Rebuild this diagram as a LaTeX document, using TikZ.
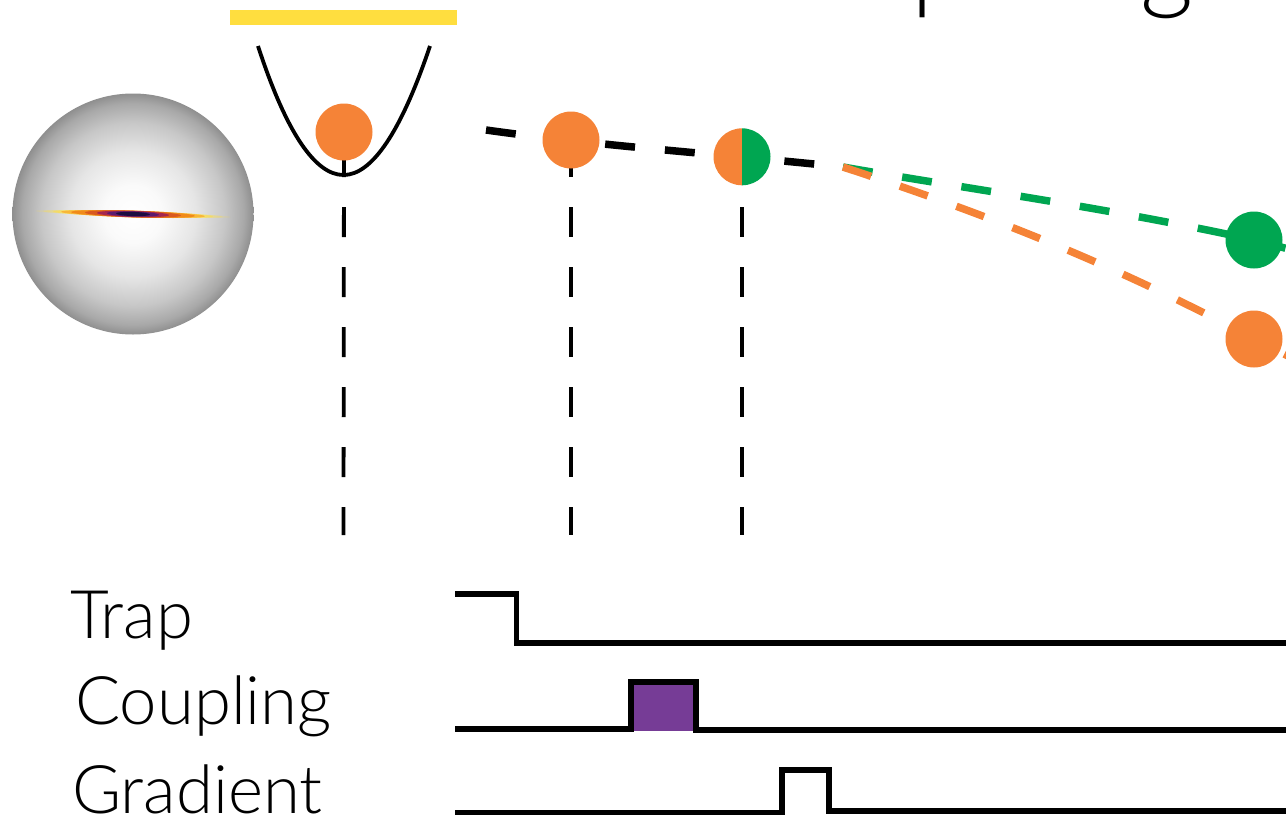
\documentclass[tikz,border=0pt]{standalone}
\usepackage{fontspec}
\newfontfamily\lab{Lato}[UprightFont=* Light]
\definecolor{atomorange}{HTML}{F58337}
\definecolor{atomgreen}{HTML}{00A651}
\definecolor{barfill}{HTML}{FFDE3F}
\definecolor{pulsefill}{HTML}{763C96}
\definecolor{streakA}{HTML}{F9B233}
\definecolor{streakB}{HTML}{F08A1A}
\definecolor{streakC}{HTML}{D9591F}
\definecolor{streakD}{HTML}{A5264F}
\definecolor{streakE}{HTML}{5B1A6E}
\definecolor{streakF}{HTML}{1C0C40}
\pgfdeclareradialshading{cloudball}{\pgfpointorigin}{%
  color(0bp)=(white);
  color(6bp)=(white!98!black);
  color(13bp)=(white!90!black);
  color(19bp)=(white!78!black);
  color(23bp)=(white!66!black);
  color(25bp)=(white!56!black);
  color(50bp)=(white!56!black)}
\tikzset{
  x=1pt, y=-1pt,
  atom/.style={circle, fill=atomorange, minimum size=57pt, inner sep=0pt},
  atomg/.style={atom, fill=atomgreen},
  halfatom/.style={circle, minimum size=57pt, inner sep=0pt},
  path black/.style={line width=7.5pt, black, dash pattern=on 30pt off 30pt},
  path green/.style={line width=7.5pt, atomgreen, dash pattern=on 30pt off 30pt},
  path orange/.style={line width=7.5pt, atomorange, dash pattern=on 29.5pt off 30.5pt},
  drop/.style={line width=3.8pt, black, dash pattern=on 30pt off 30pt},
  wave/.style={line width=5.2pt, black, miter limit=10},
  siglabel/.style={anchor=base west, inner sep=0pt, font=\lab\fontsize{67}{67}\selectfont, text=black},
  title frag/.style={anchor=base west, inner sep=0pt, font=\lab\fontsize{104}{104}\selectfont, text=black}
}
\begin{document}
\begin{tikzpicture}
\useasboundingbox (0,0) rectangle (1286,822);

% heading, mostly above the page edge
\node[title frag] (headp) at (911,-1) {p};
\node[title frag] (headg) at (1140,-1) {g};

% condensate cloud with its thin density streak
\shade[shading=cloudball] (133,214) circle[radius=120.5];
\begin{scope}[rotate around={-1.8:(133,214)}]
  \foreach \rx/\ry/\col/\op in {
      98/2.4/barfill/.16, 90/2.8/barfill/.3, 80/3.1/barfill/.55,
      72/3.3/streakA/.9, 62/3.4/streakB/1, 48/3.3/streakC/1,
      36/3.0/streakD/1, 26/2.6/streakE/1, 17/2.1/streakF/1}{
    \fill[\col, opacity=\op] (133,214) ellipse[x radius=\rx, y radius=\ry];
  }
\end{scope}

% trapping beam and potential
\fill[barfill] (230,10) rectangle (457,25);
\coordinate (wellL) at (258,46);
\coordinate (wellB) at (343.5,175);
\coordinate (wellR) at (430,46);
\draw[line width=3.8pt, black, line join=miter]
  (wellL) .. controls (286,132) and (315,175) .. (wellB)
          .. controls (372,175) and (401,132) .. (wellR);

% named positions along the trajectory
\coordinate (armstart) at (486,130);
\coordinate (split) at (843,167);
\coordinate (greenexit) at (1300,252);
\coordinate (orangeexit) at (1300,362);
\coordinate (dropA) at (343.5,535);
\coordinate (dropB) at (571,535);
\coordinate (dropC) at (742,535);
\coordinate (atomAc) at (344,132);
\coordinate (atomBc) at (571,140);
\coordinate (atomCc) at (742,157);
\coordinate (atomGc) at (1254,240);
\coordinate (atomOc) at (1254,339);

% time markers dropping to the pulse sequence
\draw[drop, dash phase=45pt] (atomAc) -- (dropA);
\draw[drop, dash phase=53pt] (atomBc) -- (dropB);
\draw[drop, dash phase=10pt] (atomCc) -- (dropC);

% falling and separating trajectories
\draw[path black] (armstart) .. controls (600,146) and (720,154) .. (split);
\draw[path green] (split) .. controls (950,186) and (1110,208) .. (atomGc) -- (greenexit);
\draw[path orange] (split) .. controls (980,212) and (1110,262) .. (atomOc) -- (orangeexit);

% atoms
\node[atom] (atomA) at (atomAc) {};
\node[atom] (atomB) at (atomBc) {};
\node[halfatom] (atomC) at (atomCc) {};
\fill[atomorange] (atomC.north) arc[start angle=-90, delta angle=-180, radius=28.5];
\fill[atomgreen] (atomC.north) arc[start angle=-90, delta angle=180, radius=28.5];
\node[atomg] (atomG) at (atomGc) {};
\node[atom] (atomO) at (atomOc) {};

% pulse sequence labels
\node[siglabel] (trap) at (70,638) {Trap};
\node[siglabel] (coupling) at (75,724) {Coupling};
\node[siglabel] (gradient) at (72,813) {Gradient};

% pulse sequence traces
\fill[pulsefill] (631,682) rectangle (696,731);
\draw[wave] (455,594) -- (516.5,594) -- (516.5,643) -- (1286,643);
\draw[wave] (455,729) -- (631,729) -- (631,682) -- (696,682) -- (696,730) -- (1286,730);
\draw[wave] (455,812.5) -- (782,812.5) -- (782,770) -- (829,770) -- (829,811) -- (1286,811);
\end{tikzpicture}
\end{document}
